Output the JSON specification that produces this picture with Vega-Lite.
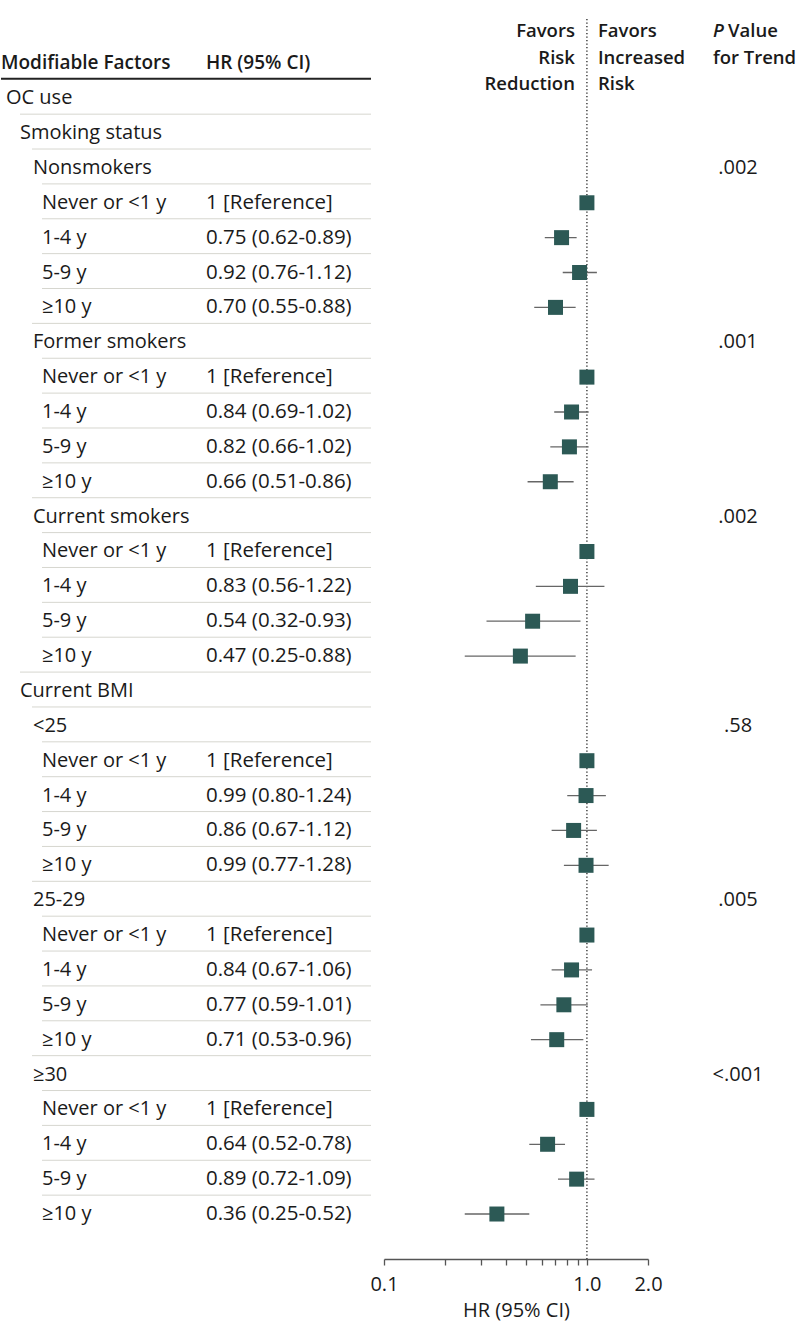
{
  "$schema": "https://vega.github.io/schema/vega-lite/v6.json",
  "padding": {"left": 0, "top": 18, "right": 0, "bottom": 70},
  "autosize": {"type": "pad"},
  "config": {
    "view": {"stroke": null},
    "font": "Open Sans",
    "text": {"fontSize": 20, "color": "#1a1a1a", "font": "Open Sans"}
  },
  "datasets": {
    "rows": [
      {"row": 1, "factor": "OC use", "level": 0, "next": 1},
      {"row": 2, "factor": "Smoking status", "level": 1, "next": 2},
      {"row": 3, "factor": "Nonsmokers", "level": 2, "next": 3, "p": ".002"},
      {"row": 4, "factor": "Never or <1 y", "level": 3, "next": 3, "hr": 1, "hrText": "1 [Reference]"},
      {"row": 5, "factor": "1-4 y", "level": 3, "next": 3, "hr": 0.75, "lo": 0.62, "hi": 0.89, "hrText": "0.75 (0.62-0.89)"},
      {"row": 6, "factor": "5-9 y", "level": 3, "next": 3, "hr": 0.92, "lo": 0.76, "hi": 1.12, "hrText": "0.92 (0.76-1.12)"},
      {"row": 7, "factor": "≥10 y", "level": 3, "next": 2, "hr": 0.70, "lo": 0.55, "hi": 0.88, "hrText": "0.70 (0.55-0.88)"},
      {"row": 8, "factor": "Former smokers", "level": 2, "next": 3, "p": ".001"},
      {"row": 9, "factor": "Never or <1 y", "level": 3, "next": 3, "hr": 1, "hrText": "1 [Reference]"},
      {"row": 10, "factor": "1-4 y", "level": 3, "next": 3, "hr": 0.84, "lo": 0.69, "hi": 1.02, "hrText": "0.84 (0.69-1.02)"},
      {"row": 11, "factor": "5-9 y", "level": 3, "next": 3, "hr": 0.82, "lo": 0.66, "hi": 1.02, "hrText": "0.82 (0.66-1.02)"},
      {"row": 12, "factor": "≥10 y", "level": 3, "next": 2, "hr": 0.66, "lo": 0.51, "hi": 0.86, "hrText": "0.66 (0.51-0.86)"},
      {"row": 13, "factor": "Current smokers", "level": 2, "next": 3, "p": ".002"},
      {"row": 14, "factor": "Never or <1 y", "level": 3, "next": 3, "hr": 1, "hrText": "1 [Reference]"},
      {"row": 15, "factor": "1-4 y", "level": 3, "next": 3, "hr": 0.83, "lo": 0.56, "hi": 1.22, "hrText": "0.83 (0.56-1.22)"},
      {"row": 16, "factor": "5-9 y", "level": 3, "next": 3, "hr": 0.54, "lo": 0.32, "hi": 0.93, "hrText": "0.54 (0.32-0.93)"},
      {"row": 17, "factor": "≥10 y", "level": 3, "next": 1, "hr": 0.47, "lo": 0.25, "hi": 0.88, "hrText": "0.47 (0.25-0.88)"},
      {"row": 18, "factor": "Current BMI", "level": 1, "next": 2},
      {"row": 19, "factor": "<25", "level": 2, "next": 3, "p": ".58"},
      {"row": 20, "factor": "Never or <1 y", "level": 3, "next": 3, "hr": 1, "hrText": "1 [Reference]"},
      {"row": 21, "factor": "1-4 y", "level": 3, "next": 3, "hr": 0.99, "lo": 0.80, "hi": 1.24, "hrText": "0.99 (0.80-1.24)"},
      {"row": 22, "factor": "5-9 y", "level": 3, "next": 3, "hr": 0.86, "lo": 0.67, "hi": 1.12, "hrText": "0.86 (0.67-1.12)"},
      {"row": 23, "factor": "≥10 y", "level": 3, "next": 2, "hr": 0.99, "lo": 0.77, "hi": 1.28, "hrText": "0.99 (0.77-1.28)"},
      {"row": 24, "factor": "25-29", "level": 2, "next": 3, "p": ".005"},
      {"row": 25, "factor": "Never or <1 y", "level": 3, "next": 3, "hr": 1, "hrText": "1 [Reference]"},
      {"row": 26, "factor": "1-4 y", "level": 3, "next": 3, "hr": 0.84, "lo": 0.67, "hi": 1.06, "hrText": "0.84 (0.67-1.06)"},
      {"row": 27, "factor": "5-9 y", "level": 3, "next": 3, "hr": 0.77, "lo": 0.59, "hi": 1.01, "hrText": "0.77 (0.59-1.01)"},
      {"row": 28, "factor": "≥10 y", "level": 3, "next": 2, "hr": 0.71, "lo": 0.53, "hi": 0.96, "hrText": "0.71 (0.53-0.96)"},
      {"row": 29, "factor": "≥30", "level": 2, "next": 3, "p": "<.001"},
      {"row": 30, "factor": "Never or <1 y", "level": 3, "next": 3, "hr": 1, "hrText": "1 [Reference]"},
      {"row": 31, "factor": "1-4 y", "level": 3, "next": 3, "hr": 0.64, "lo": 0.52, "hi": 0.78, "hrText": "0.64 (0.52-0.78)"},
      {"row": 32, "factor": "5-9 y", "level": 3, "next": 3, "hr": 0.89, "lo": 0.72, "hi": 1.09, "hrText": "0.89 (0.72-1.09)"},
      {"row": 33, "factor": "≥10 y", "level": 3, "hr": 0.36, "lo": 0.25, "hi": 0.52, "hrText": "0.36 (0.25-0.52)"}
    ]
  },
  "bounds": "flush",
  "spacing": 13,
  "hconcat": [
    {
      "width": 370,
      "height": 1240,
      "layer": [
        {
          "data": {"values": [{"col": "Modifiable Factors"}, {"col": "HR (95% CI)"}]},
          "mark": {"type": "text", "align": "left", "baseline": "middle", "fontWeight": 600, "fontSize": 19, "dx": 0},
          "encoding": {
            "x": {"field": "col", "type": "nominal", "bandPosition": 0, "axis": null,
                  "scale": {"type": "band", "domain": ["Modifiable Factors", "HR (95% CI)"], "paddingInner": 0.195, "paddingOuter": 0}},
            "y": {"datum": 0, "type": "quantitative", "axis": null, "scale": {"domain": [-1.27, 34.29], "reverse": true, "nice": false, "zero": false}},
            "text": {"field": "col"}
          }
        },
        {
          "data": {"values": [{"col": "Modifiable Factors"}]},
          "mark": {"type": "rule", "yOffset": 15.5, "strokeWidth": 2, "color": "#222222"},
          "encoding": {
            "y": {"datum": 0, "type": "quantitative", "axis": null, "scale": {"domain": [-1.27, 34.29], "reverse": true, "nice": false, "zero": false}}
          }
        },
        {
          "data": {"name": "rows"},
          "transform": [{"filter": "datum.next == 1"}],
          "mark": {"type": "rule", "yOffset": 16, "xOffset": 19, "strokeWidth": 1, "color": "#d6d6cf"},
          "encoding": {
            "x": {"datum": "Modifiable Factors", "type": "nominal", "bandPosition": 0},
            "x2": {"datum": "HR (95% CI)", "bandPosition": 1},
            "y": {"field": "row", "type": "quantitative", "axis": null, "scale": {"domain": [-1.27, 34.29], "reverse": true, "nice": false, "zero": false}}
          }
        },
        {
          "data": {"name": "rows"},
          "transform": [{"filter": "datum.next == 2"}],
          "mark": {"type": "rule", "yOffset": 16, "xOffset": 31, "strokeWidth": 1, "color": "#d6d6cf"},
          "encoding": {
            "x": {"datum": "Modifiable Factors", "type": "nominal", "bandPosition": 0},
            "x2": {"datum": "HR (95% CI)", "bandPosition": 1},
            "y": {"field": "row", "type": "quantitative", "axis": null, "scale": {"domain": [-1.27, 34.29], "reverse": true, "nice": false, "zero": false}}
          }
        },
        {
          "data": {"name": "rows"},
          "transform": [{"filter": "datum.next == 3"}],
          "mark": {"type": "rule", "yOffset": 16, "xOffset": 41, "strokeWidth": 1, "color": "#d6d6cf"},
          "encoding": {
            "x": {"datum": "Modifiable Factors", "type": "nominal", "bandPosition": 0},
            "x2": {"datum": "HR (95% CI)", "bandPosition": 1},
            "y": {"field": "row", "type": "quantitative", "axis": null, "scale": {"domain": [-1.27, 34.29], "reverse": true, "nice": false, "zero": false}}
          }
        },
        {
          "data": {"name": "rows"},
          "transform": [{"filter": "datum.level == 0"}],
          "mark": {"type": "text", "align": "left", "baseline": "middle", "dx": 5},
          "encoding": {
            "x": {"datum": "Modifiable Factors", "type": "nominal", "bandPosition": 0},
            "y": {"field": "row", "type": "quantitative", "axis": null, "scale": {"domain": [-1.27, 34.29], "reverse": true, "nice": false, "zero": false}},
            "text": {"field": "factor"}
          }
        },
        {
          "data": {"name": "rows"},
          "transform": [{"filter": "datum.level == 1"}],
          "mark": {"type": "text", "align": "left", "baseline": "middle", "dx": 19},
          "encoding": {
            "x": {"datum": "Modifiable Factors", "type": "nominal", "bandPosition": 0},
            "y": {"field": "row", "type": "quantitative", "axis": null, "scale": {"domain": [-1.27, 34.29], "reverse": true, "nice": false, "zero": false}},
            "text": {"field": "factor"}
          }
        },
        {
          "data": {"name": "rows"},
          "transform": [{"filter": "datum.level == 2"}],
          "mark": {"type": "text", "align": "left", "baseline": "middle", "dx": 32},
          "encoding": {
            "x": {"datum": "Modifiable Factors", "type": "nominal", "bandPosition": 0},
            "y": {"field": "row", "type": "quantitative", "axis": null, "scale": {"domain": [-1.27, 34.29], "reverse": true, "nice": false, "zero": false}},
            "text": {"field": "factor"}
          }
        },
        {
          "data": {"name": "rows"},
          "transform": [{"filter": "datum.level == 3"}],
          "mark": {"type": "text", "align": "left", "baseline": "middle", "dx": 41},
          "encoding": {
            "x": {"datum": "Modifiable Factors", "type": "nominal", "bandPosition": 0},
            "y": {"field": "row", "type": "quantitative", "axis": null, "scale": {"domain": [-1.27, 34.29], "reverse": true, "nice": false, "zero": false}},
            "text": {"field": "factor"}
          }
        },
        {
          "data": {"name": "rows"},
          "transform": [{"filter": "isValid(datum.hrText)"}],
          "mark": {"type": "text", "align": "left", "baseline": "middle", "dx": 0, "fontSize": 20.5},
          "encoding": {
            "x": {"datum": "HR (95% CI)", "type": "nominal", "bandPosition": 0},
            "y": {"field": "row", "type": "quantitative", "axis": null, "scale": {"domain": [-1.27, 34.29], "reverse": true, "nice": false, "zero": false}},
            "text": {"field": "hrText"}
          }
        }
      ]
    },
    {
      "bounds": "flush",
      "spacing": 27,
      "hconcat": [
        {
          "width": 264,
          "height": 1240,
          "layer": [
            {
              "data": {"values": [{"ref": 1}]},
              "mark": {"type": "rule", "strokeDash": [1.2, 2.3], "strokeWidth": 1.3, "color": "#222222"},
              "encoding": {
                "x": {"field": "ref", "type": "quantitative",
                      "scale": {"type": "log", "domain": [0.1, 2], "nice": false},
                      "axis": {
                        "values": [0.1, 0.2, 0.3, 0.4, 0.5, 0.6, 0.7, 0.8, 0.9, 1, 2],
                        "labelExpr": "datum.value == 0.1 || datum.value == 1 || datum.value == 2 ? format(datum.value, '.1f') : ''",
                        "title": "HR (95% CI)",
                        "grid": false,
                        "tickSize": 6,
                        "tickColor": "#555555",
                        "domainColor": "#555555",
                        "domainWidth": 1.3,
                        "tickWidth": 1.3,
                        "labelFont": "Open Sans",
                        "labelFontSize": 20,
                        "labelColor": "#1a1a1a",
                        "labelPadding": 9,
                        "labelFlush": false,
                        "labelOverlap": false,
                        "titleFont": "Open Sans",
                        "titleFontSize": 20,
                        "titleFontWeight": "normal",
                        "titleColor": "#1a1a1a",
                        "titlePadding": 6
                      }}
              }
            },
            {
              "data": {"name": "rows"},
              "transform": [{"filter": "isValid(datum.lo)"}],
              "mark": {"type": "rule", "strokeWidth": 1.3, "color": "#666666"},
              "encoding": {
                "x": {"field": "lo", "type": "quantitative"},
                "x2": {"field": "hi"},
                "y": {"field": "row", "type": "quantitative", "axis": null, "scale": {"domain": [-1.27, 34.29], "reverse": true, "nice": false, "zero": false}}
              }
            },
            {
              "data": {"name": "rows"},
              "transform": [{"filter": "isValid(datum.hr)"}],
              "mark": {"type": "point", "shape": "square", "filled": true, "size": 225, "opacity": 1, "color": "#2c5955"},
              "encoding": {
                "x": {"field": "hr", "type": "quantitative"},
                "y": {"field": "row", "type": "quantitative", "axis": null, "scale": {"domain": [-1.27, 34.29], "reverse": true, "nice": false, "zero": false}}
              }
            },
            {
              "data": {"values": [{"ref": 1, "label": "Favors\nRisk\nReduction"}]},
              "mark": {"type": "text", "align": "right", "baseline": "middle", "lineBreak": "\n", "lineHeight": 26.5, "dx": -12, "fontWeight": 600, "fontSize": 18.5},
              "encoding": {
                "x": {"field": "ref", "type": "quantitative"},
                "y": {"datum": -0.921, "type": "quantitative", "axis": null, "scale": {"domain": [-1.27, 34.29], "reverse": true, "nice": false, "zero": false}},
                "text": {"field": "label"}
              }
            },
            {
              "data": {"values": [{"ref": 1, "label": "Favors\nIncreased\nRisk"}]},
              "mark": {"type": "text", "align": "left", "baseline": "middle", "lineBreak": "\n", "lineHeight": 26.5, "dx": 11, "fontWeight": 600, "fontSize": 18.5},
              "encoding": {
                "x": {"field": "ref", "type": "quantitative"},
                "y": {"datum": -0.921, "type": "quantitative", "axis": null, "scale": {"domain": [-1.27, 34.29], "reverse": true, "nice": false, "zero": false}},
                "text": {"field": "label"}
              }
            }
          ]
        },
        {
          "width": 124,
          "height": 1240,
          "layer": [
            {
              "data": {"name": "rows"},
              "transform": [{"filter": "isValid(datum.p)"}],
              "mark": {"type": "text", "align": "center", "baseline": "middle", "dx": 1},
              "encoding": {
                "y": {"field": "row", "type": "quantitative", "axis": null, "scale": {"domain": [-1.27, 34.29], "reverse": true, "nice": false, "zero": false}},
                "text": {"field": "p"}
              }
            },
            {
              "data": {"values": [{"label": "P"}]},
              "mark": {"type": "text", "align": "left", "baseline": "middle", "dx": -24, "fontStyle": "italic", "fontWeight": 600, "fontSize": 18.5},
              "encoding": {
                "y": {"datum": -0.921, "type": "quantitative", "axis": null, "scale": {"domain": [-1.27, 34.29], "reverse": true, "nice": false, "zero": false}},
                "text": {"field": "label"}
              }
            },
            {
              "data": {"values": [{"label": "Value"}]},
              "mark": {"type": "text", "align": "left", "baseline": "middle", "dx": -9, "fontWeight": 600, "fontSize": 18.5},
              "encoding": {
                "y": {"datum": -0.921, "type": "quantitative", "axis": null, "scale": {"domain": [-1.27, 34.29], "reverse": true, "nice": false, "zero": false}},
                "text": {"field": "label"}
              }
            },
            {
              "data": {"values": [{"label": "for Trend"}]},
              "mark": {"type": "text", "align": "left", "baseline": "middle", "dx": -24, "fontWeight": 600, "fontSize": 18.5},
              "encoding": {
                "y": {"datum": -0.147, "type": "quantitative", "axis": null, "scale": {"domain": [-1.27, 34.29], "reverse": true, "nice": false, "zero": false}},
                "text": {"field": "label"}
              }
            }
          ]
        }
      ]
    }
  ]
}
